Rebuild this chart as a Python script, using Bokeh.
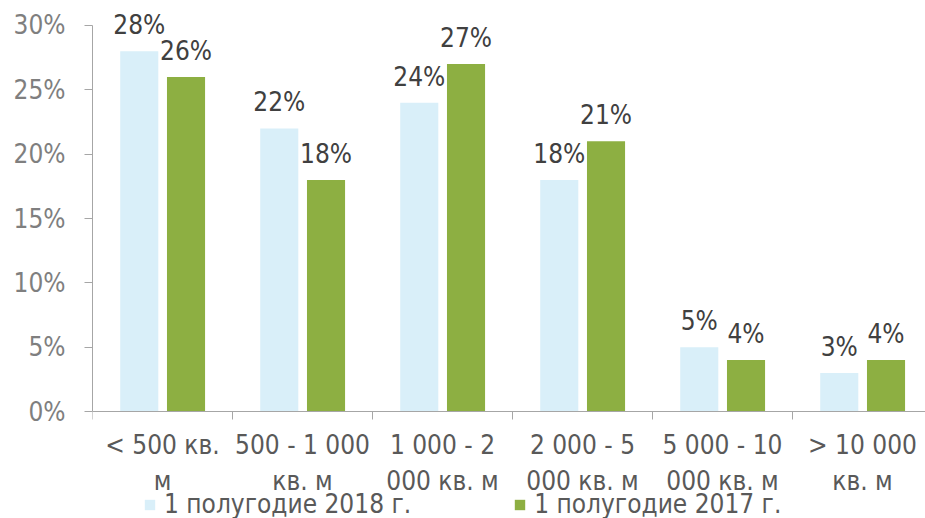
from bokeh.plotting import figure
from bokeh.models import (ColumnDataSource, Range1d, FixedTicker, LabelSet,
                          Legend, LegendItem, NumeralTickFormatter)
from bokeh.core.properties import value
from bokeh.transform import dodge
from bokeh.embed import file_html
from bokeh.resources import INLINE

categories = ["< 500 кв.\nм", "500 - 1 000\nкв. м", "1 000 - 2\n000 кв. м",
              "2 000 - 5\n000 кв. м", "5 000 - 10\n000 кв. м", "> 10 000\nкв. м"]
series_2018 = [0.28, 0.22, 0.24, 0.18, 0.05, 0.03]
series_2017 = [0.26, 0.18, 0.27, 0.21, 0.04, 0.04]
name_2018 = "1 полугодие 2018 г."
name_2017 = "1 полугодие 2017 г."
y_ticks = [0, 0.05, 0.10, 0.15, 0.20, 0.25, 0.30]

FONT = "DejaVu Sans Condensed"
C_LIGHT = "#D9EFF9"
C_GREEN = "#8DAF42"

xs = [i + 0.5 for i in range(len(categories))]
src = ColumnDataSource(dict(
    x=xs,
    a=series_2018,
    b=series_2017,
    la=[f"{round(v*100)}%" for v in series_2018],
    lb=[f"{round(v*100)}%" for v in series_2017],
))

p = figure(width=925, height=518, output_backend="svg", toolbar_location=None,
           x_range=Range1d(0, 5.95), y_range=Range1d(-0.08316, 0.31943),
           min_border_left=92, min_border_right=0, min_border_top=0,
           min_border_bottom=0)
p.outline_line_color = None
p.grid.grid_line_color = None
p.background_fill_color = None
p.border_fill_color = "white"

r1 = p.vbar(x=dodge("x", -0.166), top="a", width=0.272, source=src,
            fill_color=C_LIGHT, line_color=None)
r2 = p.vbar(x=dodge("x", 0.168), top="b", width=0.272, source=src,
            fill_color=C_GREEN, line_color=None)

for col, lab, off in (("a", "la", -0.166), ("b", "lb", 0.168)):
    ls = LabelSet(x=dodge("x", off), y=col, text=lab, source=src,
                  text_align="center", text_baseline="alphabetic",
                  y_offset=17, text_font=value(FONT), text_font_size="26px",
                  text_color="#404040")
    p.add_layout(ls)

# x axis, drawn at y = 0 inside the frame
xa = p.xaxis[0]
xa.fixed_location = 0
xa.ticker = FixedTicker(ticks=xs, minor_ticks=list(range(len(categories) + 1)))
xa.major_label_overrides = {x: c for x, c in zip(xs, categories)}
xa.major_tick_line_color = None
xa.minor_tick_in = 0
xa.minor_tick_out = 8
xa.minor_tick_line_color = "#A6A6A6"
xa.axis_line_color = "#A6A6A6"
xa.major_label_text_font = FONT
xa.major_label_text_font_size = "26px"
xa.major_label_text_color = "#595959"
xa.major_label_standoff = 10

# y axis
ya = p.yaxis[0]
ya.ticker = FixedTicker(ticks=y_ticks)
ya.formatter = NumeralTickFormatter(format="0%")
ya.bounds = (0, 0.30)
ya.major_tick_in = 0
ya.major_tick_out = 8
ya.minor_tick_line_color = None
ya.major_tick_line_color = "#A6A6A6"
ya.axis_line_color = "#A6A6A6"
ya.major_label_text_font = FONT
ya.major_label_text_font_size = "26px"
ya.major_label_text_color = "#7F7F7F"
ya.major_label_standoff = 19

legend = Legend(items=[LegendItem(label=name_2018, renderers=[r1]),
                       LegendItem(label=name_2017, renderers=[r2])],
                orientation="horizontal", location=(51, -1),
                spacing=102, padding=0, margin=0, glyph_width=13,
                glyph_height=13, label_standoff=8,
                label_text_font=FONT, label_text_font_size="26px",
                label_text_color="#595959", border_line_color=None,
                background_fill_alpha=0)
p.add_layout(legend, "center")

open("out.html", "w").write(file_html(p, INLINE))
